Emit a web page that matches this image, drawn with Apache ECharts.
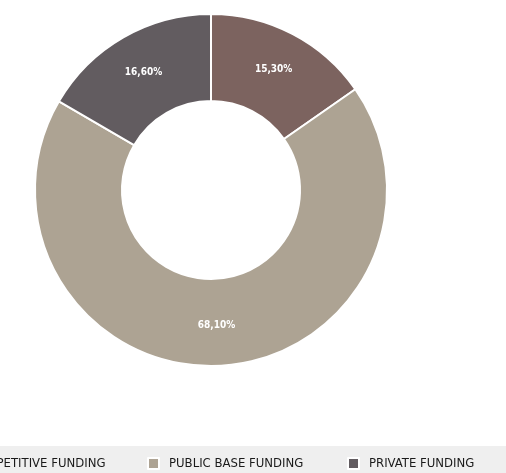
<!DOCTYPE html>
<html>
<head>
<meta charset="utf-8">
<script src="https://cdn.jsdelivr.net/npm/echarts@6/dist/echarts.min.js"></script>
<style>
  html, body { margin: 0; padding: 0; background: #fff; }
  #chart { width: 506px; height: 473px; }
</style>
</head>
<body>
<div id="chart"></div>
<script>
const categories = [ 'COMPETITIVE FUNDING', 'PUBLIC BASE FUNDING', 'PRIVATE FUNDING' ];
const shares = [ 15.3, 68.1, 16.6 ];
const colors = [ '#7c635f', '#ada393', '#625c60' ];

const fontName = '"DejaVu Sans Condensed", "Liberation Sans Narrow", sans-serif';
const chart = echarts.init( document.getElementById( 'chart' ), null, { renderer: 'canvas' } );

const pieData = categories.map( ( name, i ) => ( {
	name,
	value: shares[ i ],
	itemStyle: { color: colors[ i ] }
} ) );

// one legend per item, 200px apart (the first one runs off the left edge)
const legends = categories.map( ( name, i ) => ( {
	data: [ name ],
	left: -53 + i * 200,
	top: 457,
	itemWidth: 11,
	itemHeight: 11,
	itemGap: 0,
	icon: 'rect',
	padding: 0,
	selectedMode: false,
	textStyle: {
		fontFamily: fontName,
		fontSize: 13,
		color: '#1a1a1a',
		padding: [ 0, 0, 0, 5 ]
	}
} ) );

chart.setOption( {
	animation: false,
	graphic: [ {
		type: 'rect',
		left: 0,
		top: 446,
		z: -1,
		shape: { width: 506, height: 27 },
		style: { fill: '#efefef' }
	} ],
	legend: legends,
	series: [ {
		type: 'pie',
		center: [ 211, 190 ],
		radius: [ 89, 176 ],
		startAngle: 90,
		clockwise: true,
		itemStyle: { borderColor: '#fff', borderWidth: 2 },
		label: {
			show: true,
			position: 'inside',
			color: '#fff',
			fontFamily: fontName,
			fontWeight: 'bold',
			fontSize: 10,
			formatter: ( p ) => p.value.toFixed( 2 ).replace( '.', ',' ) + '%'
		},
		labelLine: { show: false },
		emphasis: { disabled: true },
		data: pieData
	} ]
} );
</script>
</body>
</html>
